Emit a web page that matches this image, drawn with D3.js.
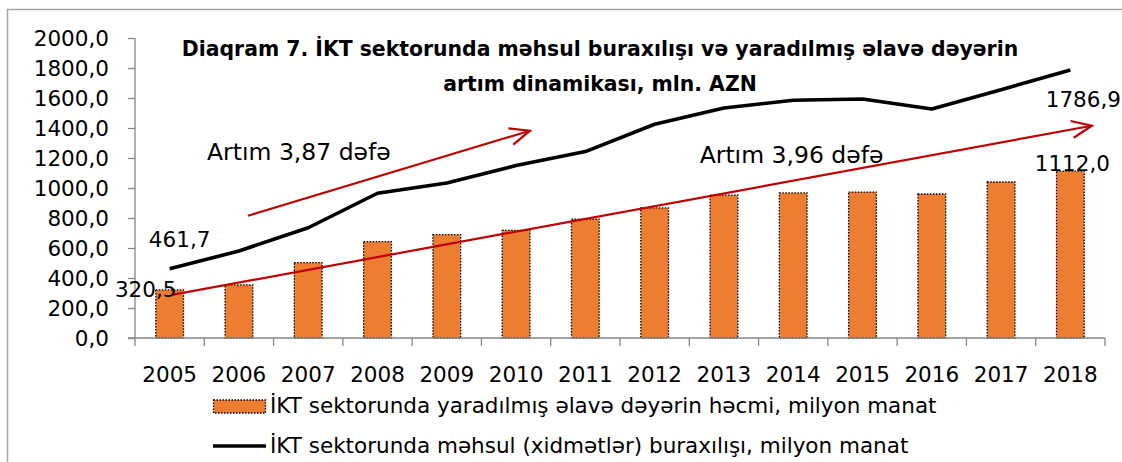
<!DOCTYPE html>
<html>
<head>
<meta charset="utf-8">
<script src="https://cdn.jsdelivr.net/npm/d3@7"></script>
<style>
  html, body { margin: 0; padding: 0; background: #fff; }
  svg { display: block; font-family: "DejaVu Sans", sans-serif; }
</style>
</head>
<body>
<script>
var years = ['2005', '2006', '2007', '2008', '2009', '2010', '2011',
             '2012', '2013', '2014', '2015', '2016', '2017', '2018'];
// value added in the ICT sector, mln. manat (bars)
var addedValue = [320.5, 354, 502, 642, 689, 717, 793, 867, 952, 967, 973, 960, 1040, 1112.0];
// output (services) of the ICT sector, mln. manat (line)
var output = [461.7, 580, 735, 965, 1033, 1150, 1243, 1425, 1533, 1585, 1593, 1527, 1655, 1786.9];
var yTicks = [0, 200, 400, 600, 800, 1000, 1200, 1400, 1600, 1800, 2000];

var titleLines = ['Diaqram 7. İKT sektorunda məhsul buraxılışı və yaradılmış əlavə dəyərin',
                  'artım dinamikası, mln. AZN'];
var legendLabels = ['İKT sektorunda yaradılmış əlavə dəyərin həcmi, milyon manat',
                    'İKT sektorunda məhsul (xidmətlər) buraxılışı, milyon manat'];
// growth arrows: [category index from, value from, index to, value to], label
var arrows = [
  {from: [1.63, 815], to: [5.70, 1382], label: 'Artım 3,87 dəfə', at: [1.04, 1186]},
  {from: [0.55, 289], to: [13.81, 1415], label: 'Artım 3,96 dəfə', at: [8.15, 1166]}
];

var W = 1122, H = 462;
var margin = {top: 38, right: 17, bottom: 124, left: 135};
var fs = 21.5;

var svg = d3.select(document.body).append('svg')
    .attr('width', W)
    .attr('height', H);

// chart frame (only top and left edges fall inside the picture)
svg.append('rect')
    .attr('x', 7.5).attr('y', 9.5)
    .attr('width', W + 20).attr('height', H + 20)
    .attr('fill', 'none')
    .attr('stroke', '#a6a6a6')
    .attr('stroke-width', 1.5);

var width = W - margin.left - margin.right,
    height = H - margin.top - margin.bottom;

var g = svg.append('g')
    .attr('transform', 'translate(' + margin.left + ',' + margin.top + ')');

var x = d3.scaleBand().domain(years).range([0, width]).paddingInner(0.6).paddingOuter(0.3);
var xi = d3.scaleLinear().domain([0, years.length]).range([0, width]);
var y = d3.scaleLinear().domain([0, 2000]).range([height, 0]);
var fmt = function(v) { return v.toFixed(1).replace('.', ','); };
var cx = function(i) { return x(years[i]) + x.bandwidth() / 2; };

var axisColor = '#868686';

// y axis
var yAxis = g.append('g')
    .call(d3.axisLeft(y).tickValues(yTicks).tickSize(7).tickPadding(19).tickFormat(fmt));
yAxis.select('.domain').remove();
yAxis.selectAll('.tick line').attr('stroke', axisColor).attr('stroke-width', 1.3);
yAxis.selectAll('.tick text')
    .attr('font-size', fs)
    .attr('font-family', '"DejaVu Sans", sans-serif')
    .attr('fill', '#000')
    .attr('dy', '0.36em');
g.append('line')
    .attr('x1', 0).attr('x2', 0)
    .attr('y1', y(2000)).attr('y2', y(0))
    .attr('stroke', axisColor).attr('stroke-width', 1.3);

// bars
g.selectAll('.bar')
    .data(addedValue)
    .enter().append('rect')
    .attr('class', 'bar')
    .attr('x', function(d, i) { return x(years[i]); })
    .attr('y', function(d) { return y(d); })
    .attr('width', x.bandwidth())
    .attr('height', function(d) { return y(0) - y(d); })
    .attr('fill', '#ED7D31')
    .attr('stroke', '#000')
    .attr('stroke-width', 1.3)
    .attr('stroke-dasharray', '1.5,1.5');

// x axis: line and ticks at category boundaries
g.append('line')
    .attr('x1', -7).attr('x2', width)
    .attr('y1', y(0)).attr('y2', y(0))
    .attr('stroke', axisColor).attr('stroke-width', 1.3);
g.selectAll('.xtick')
    .data(d3.range(years.length + 1))
    .enter().append('line')
    .attr('class', 'xtick')
    .attr('x1', function(i) { return xi(i); })
    .attr('x2', function(i) { return xi(i); })
    .attr('y1', y(0)).attr('y2', y(0) + 8)
    .attr('stroke', axisColor).attr('stroke-width', 1.3);
var xAxis = g.append('g')
    .attr('transform', 'translate(0,' + y(0) + ')')
    .call(d3.axisBottom(x).tickSize(0));
xAxis.select('.domain').remove();
xAxis.selectAll('.tick text')
    .attr('font-size', fs)
    .attr('font-family', '"DejaVu Sans", sans-serif')
    .attr('fill', '#000')
    .attr('y', 44)
    .attr('dy', 0);

// output line
var line = d3.line()
    .x(function(d, i) { return cx(i); })
    .y(function(d) { return y(d); });
g.append('path')
    .datum(output)
    .attr('d', line)
    .attr('fill', 'none')
    .attr('stroke', '#000')
    .attr('stroke-width', 3.6)
    .attr('stroke-linejoin', 'round');

// growth arrows
svg.append('defs').append('marker')
    .attr('id', 'head')
    .attr('markerUnits', 'userSpaceOnUse')
    .attr('viewBox', '-22 -11 24 22')
    .attr('markerWidth', 24).attr('markerHeight', 22)
    .attr('refX', 0).attr('refY', 0)
    .attr('orient', 'auto')
    .append('path')
    .attr('d', 'M-20,-8.5L0,0L-20,8.5')
    .attr('fill', 'none')
    .attr('stroke', '#C00000')
    .attr('stroke-width', 2.2);

g.selectAll('.arrow')
    .data(arrows)
    .enter().append('line')
    .attr('class', 'arrow')
    .attr('x1', function(d) { return xi(d.from[0]); })
    .attr('y1', function(d) { return y(d.from[1]); })
    .attr('x2', function(d) { return xi(d.to[0]); })
    .attr('y2', function(d) { return y(d.to[1]); })
    .attr('stroke', '#C00000')
    .attr('stroke-width', 2.2)
    .attr('marker-end', 'url(#head)');

g.selectAll('.arrow-label')
    .data(arrows)
    .enter().append('text')
    .attr('class', 'arrow-label')
    .attr('x', function(d) { return xi(d.at[0]); })
    .attr('y', function(d) { return y(d.at[1]); })
    .attr('font-size', 23.5)
    .text(function(d) { return d.label; });

// data labels at first and last points
var last = years.length - 1;
var labels = [
  {x: cx(0) + 10, y: y(output[0]) - 22, v: output[0]},
  {x: cx(0) - 24, y: y(addedValue[0]) + 7, v: addedValue[0]},
  {x: cx(last) + 13, y: y(output[last]) + 37, v: output[last]},
  {x: cx(last) + 2, y: y(addedValue[last]), v: addedValue[last]}
];
g.selectAll('.dlabel')
    .data(labels)
    .enter().append('text')
    .attr('class', 'dlabel')
    .attr('x', function(d) { return d.x; })
    .attr('y', function(d) { return d.y; })
    .attr('text-anchor', 'middle')
    .attr('font-size', fs)
    .text(function(d) { return fmt(d.v); });

// title
svg.selectAll('.title')
    .data(titleLines)
    .enter().append('text')
    .attr('class', 'title')
    .attr('x', 600)
    .attr('y', function(d, i) { return 56 + i * 35; })
    .attr('text-anchor', 'middle')
    .attr('font-size', 20.4)
    .attr('font-weight', 'bold')
    .text(function(d) { return d; });

// legend
var legend = svg.append('g').attr('transform', 'translate(213,0)');
legend.append('rect')
    .attr('x', 0.5).attr('y', 400)
    .attr('width', 52).attr('height', 13)
    .attr('fill', '#ED7D31')
    .attr('stroke', '#000')
    .attr('stroke-width', 1.3)
    .attr('stroke-dasharray', '1.5,1.5');
legend.append('line')
    .attr('x1', 0).attr('x2', 53)
    .attr('y1', 446).attr('y2', 446)
    .attr('stroke', '#000')
    .attr('stroke-width', 3.6);
legend.selectAll('.ltext')
    .data(legendLabels)
    .enter().append('text')
    .attr('class', 'ltext')
    .attr('x', 57)
    .attr('y', function(d, i) { return 413 + i * 40; })
    .attr('font-size', fs)
    .text(function(d) { return d; });
</script>
</body>
</html>
